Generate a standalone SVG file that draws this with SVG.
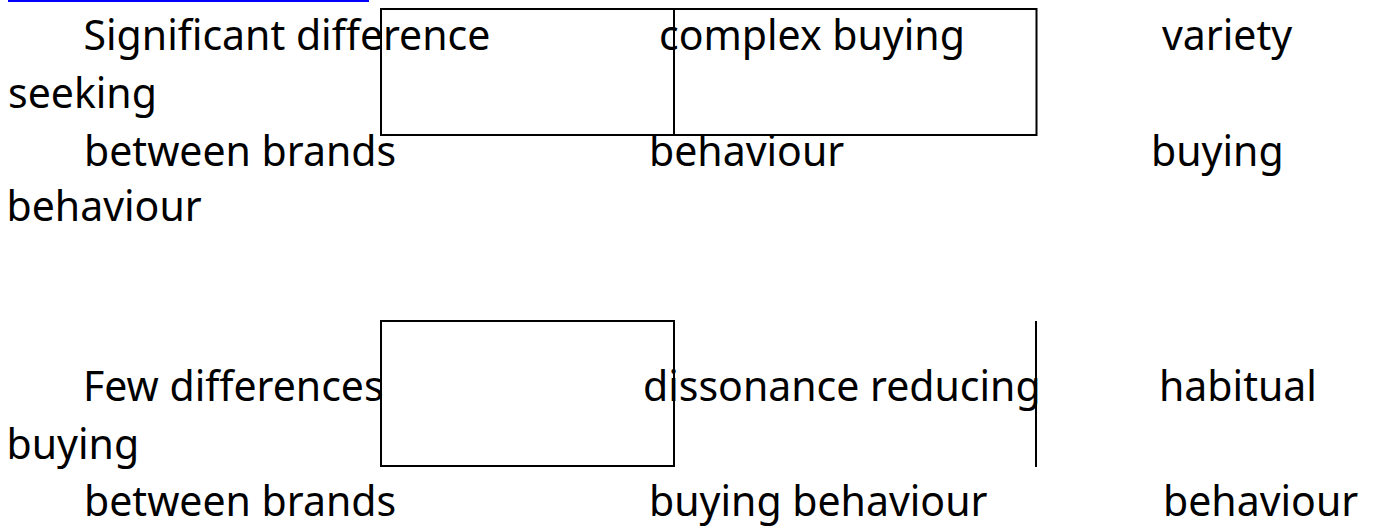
<svg xmlns="http://www.w3.org/2000/svg" width="1378" height="530" viewBox="0 0 1378 530">
<style>
text{font-family:"Noto Sans","Open Sans","DejaVu Sans",sans-serif;font-size:41px;fill:#000}
.box{fill:none;stroke:#000;stroke-width:2}
</style>
<rect x="0" y="0" width="1378" height="530" fill="#fff"/>
<rect id="link-underline" x="8" y="0" width="361" height="2" fill="#0000ff"/>
<g id="connectors">
<rect class="box" x="381" y="9" width="293" height="126"/>
<rect class="box" x="674" y="9" width="362.5" height="126"/>
<rect class="box" x="381" y="321" width="293" height="145"/>
<line class="box" x1="1036" y1="321" x2="1036" y2="467"/>
</g>
<g id="row1-label">
<text x="83.5" y="50">Significant difference</text>
<text x="84" y="166">between brands</text>
</g>
<g id="complex">
<text x="659" y="50">complex buying</text>
<text x="649" y="166">behaviour</text>
</g>
<g id="variety">
<text x="1162" y="50">variety</text>
<text x="8" y="108">seeking</text>
<text x="1151" y="166">buying</text>
<text x="6.5" y="221">behaviour</text>
</g>
<g id="row2-label">
<text x="83" y="401">Few differences</text>
<text x="84" y="516">between brands</text>
</g>
<g id="dissonance">
<text x="643" y="401">dissonance reducing</text>
<text x="649" y="516">buying behaviour</text>
</g>
<g id="habitual">
<text x="1159" y="401">habitual</text>
<text x="6.5" y="459">buying</text>
<text x="1163" y="516">behaviour</text>
</g>
</svg>
